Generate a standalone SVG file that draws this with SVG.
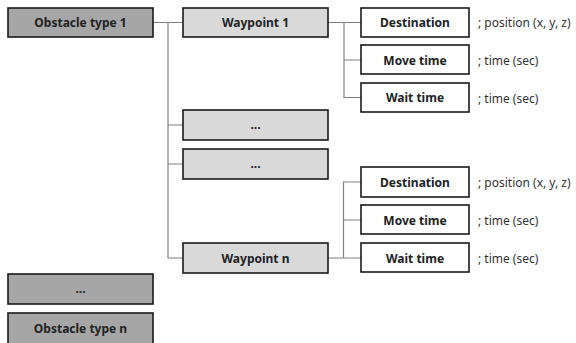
<svg xmlns="http://www.w3.org/2000/svg" width="576" height="343" viewBox="0 0 576 343">
<style>
.box{stroke:#1a1a1a;stroke-width:1.6}
.ob{fill:#a6a6a6}
.wp{fill:#d9d9d9}
.lf{fill:#ffffff}
.t{font-family:"Noto Sans","Open Sans",sans-serif;font-weight:bold;font-size:12px;fill:#222;text-anchor:middle;dominant-baseline:central}
.a{font-family:"Noto Sans","Open Sans",sans-serif;font-size:12px;fill:#333;dominant-baseline:central}
.c{fill:none;stroke:#808080;stroke-width:1.2}
</style>
<rect width="576" height="343" fill="#fff"/>
<g id="connectors">
<path class="c" d="M153 22.5H183M168 22.5V258M168 125H183M168 164H183M168 258H183"/>
<path class="c" d="M328 22.5H361M344 22.5V97.5H361M344 60H361"/>
<path class="c" d="M328 258H361M343.5 258V182H361M343.5 220H361"/>
</g>
<g id="obstacle1"><rect class="box ob" x="8" y="8" width="145" height="29"/><text class="t" x="80.5" y="22.5">Obstacle type 1</text></g>
<g id="waypoint1"><rect class="box wp" x="183" y="8" width="145" height="29"/><text class="t" x="255.5" y="22.5">Waypoint 1</text></g>
<g id="wpdots1"><rect class="box wp" x="183" y="110" width="145" height="30"/><text class="t" x="255.5" y="124">...</text></g>
<g id="wpdots2"><rect class="box wp" x="183" y="149" width="145" height="30"/><text class="t" x="255.5" y="163">...</text></g>
<g id="waypointn"><rect class="box wp" x="183" y="243" width="145" height="30"/><text class="t" x="255.5" y="258">Waypoint n</text></g>
<g id="dest1"><rect class="box lf" x="361" y="8" width="108" height="29"/><text class="t" x="415" y="22.5">Destination</text></g>
<g id="move1"><rect class="box lf" x="361" y="45" width="108" height="29"/><text class="t" x="415" y="60">Move time</text></g>
<g id="wait1"><rect class="box lf" x="361" y="83" width="108" height="29"/><text class="t" x="415" y="97.5">Wait time</text></g>
<g id="dest2"><rect class="box lf" x="361" y="167" width="108" height="30"/><text class="t" x="415" y="182">Destination</text></g>
<g id="move2"><rect class="box lf" x="361" y="205" width="108" height="29"/><text class="t" x="415" y="220">Move time</text></g>
<g id="wait2"><rect class="box lf" x="361" y="243" width="108" height="29"/><text class="t" x="415" y="258">Wait time</text></g>
<g id="annotations">
<text class="a" x="478" y="22.5">; position (x, y, z)</text>
<text class="a" x="478" y="60">; time (sec)</text>
<text class="a" x="478" y="98">; time (sec)</text>
<text class="a" x="478" y="182">; position (x, y, z)</text>
<text class="a" x="478" y="220">; time (sec)</text>
<text class="a" x="478" y="258">; time (sec)</text>
</g>
<g id="obdots"><rect class="box ob" x="8" y="274" width="145" height="30"/><text class="t" x="80.5" y="288">...</text></g>
<g id="obstaclen"><rect class="box ob" x="8" y="313" width="145" height="31"/><text class="t" x="80.5" y="328">Obstacle type n</text></g>
</svg>
